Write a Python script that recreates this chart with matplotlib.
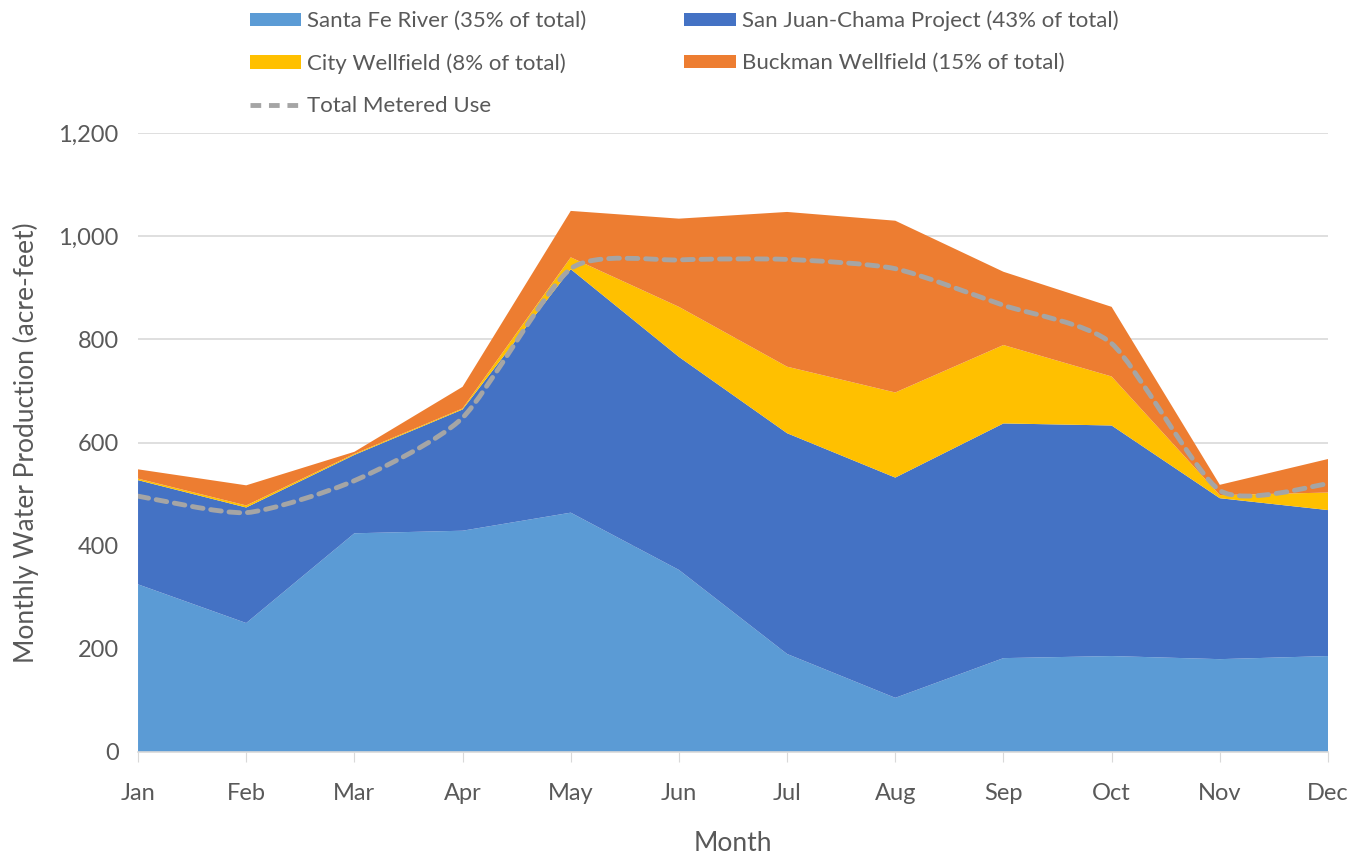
import numpy as np
import matplotlib
matplotlib.use("Agg")
import matplotlib.pyplot as plt
from matplotlib.path import Path
from matplotlib.patches import PathPatch, Patch
from matplotlib.lines import Line2D
from matplotlib.ticker import FuncFormatter

# Data (acre-feet)
months = ["Jan", "Feb", "Mar", "Apr", "May", "Jun", "Jul", "Aug", "Sep", "Oct", "Nov", "Dec"]
santa_fe = [325, 250, 424, 429, 464, 353, 190, 105, 182, 186, 180, 186]
san_juan = [202, 224, 152, 235, 472, 413, 428, 427, 455, 447, 312, 283]
city_well = [3, 4, 2, 2, 23, 97, 129, 165, 152, 95, 6, 34]
buckman = [18, 39, 4, 42, 90, 171, 300, 333, 142, 135, 20, 65]
metered = [496, 464, 526, 648, 937, 954, 955, 937, 866, 792, 507, 520]

labels = ["Santa Fe River (35% of total)", "San Juan-Chama Project (43% of total)",
          "City Wellfield (8% of total)", "Buckman Wellfield (15% of total)"]
colors = ["#5B9BD5", "#4472C4", "#FFC000", "#ED7D31"]
text_col = "#595959"

plt.rcParams["font.family"] = ["Lato", "DejaVu Sans"]


def smooth_path(x, y, k=0.11):
    # Bezier path through the points (like a spreadsheet "smoothed line")
    pts = np.column_stack([x, y]).astype(float)
    n = len(pts)
    verts = [pts[0]]
    codes = [Path.MOVETO]
    for i in range(n - 1):
        p0 = pts[i - 1] if i > 0 else pts[i]
        p1 = pts[i]
        p2 = pts[i + 1]
        p3 = pts[i + 2] if i + 2 < n else pts[i + 1]
        c1 = p1 + (p2 - p0) * k
        c2 = p2 - (p3 - p1) * k
        verts += [c1, c2, p2]
        codes += [Path.CURVE4] * 3
    return Path(verts, codes)


fig = plt.figure(figsize=(13.64, 8.61), dpi=100)
ax = fig.add_axes([0.1012, 0.1266, 0.8724, 0.7189])

x = np.arange(len(months))
ax.stackplot(x, santa_fe, san_juan, city_well, buckman, colors=colors,
             linewidth=0, zorder=2)

dash = (0, (2.2, 1.6))
line_patch = PathPatch(smooth_path(x, metered), facecolor="none", edgecolor="#A5A5A5",
                       linewidth=3.5, linestyle=dash, capstyle="round",
                       transform=ax.transData, zorder=3)
ax.add_patch(line_patch)

ax.set_xlim(0, len(months) - 1)
ax.set_ylim(0, 1200)
ax.set_yticks(np.arange(0, 1201, 200))
ax.yaxis.set_major_formatter(FuncFormatter(lambda v, p: f"{int(v):,}"))
ax.set_xticks(x)
ax.set_xticklabels(months)

ax.grid(axis="y", color="#D9D9D9", linewidth=1.2, zorder=0)
ax.set_axisbelow(True)
for s in ["left", "right", "top"]:
    ax.spines[s].set_visible(False)
ax.spines["bottom"].set_color("#D9D9D9")
ax.spines["bottom"].set_linewidth(1.2)

ax.tick_params(axis="y", length=0, labelsize=17, labelcolor=text_col, pad=14)
ax.tick_params(axis="x", length=7, color="#D9D9D9", labelsize=17, labelcolor=text_col, pad=15)

ax.set_xlabel("Month", fontsize=19, color=text_col, labelpad=20)
ax.set_ylabel("Monthly Water Production (acre-feet)", fontsize=19, color=text_col, labelpad=14)

handles = [Patch(facecolor=colors[0], label=labels[0]),
           Patch(facecolor=colors[2], label=labels[2]),
           Line2D([0], [0], color="#A5A5A5", lw=3.5, ls=dash, label="Total Metered Use"),
           Patch(facecolor=colors[1], label=labels[1]),
           Patch(facecolor=colors[3], label=labels[3])]
ax.legend(handles=handles, ncol=2, loc="lower left", bbox_to_anchor=(0.077, 0.995),
          frameon=False, fontsize=16, labelcolor=text_col, handlelength=2.3,
          handleheight=0.55, handletextpad=0.3, columnspacing=4.4, labelspacing=1.0)

plt.savefig("out.png", dpi=100)
